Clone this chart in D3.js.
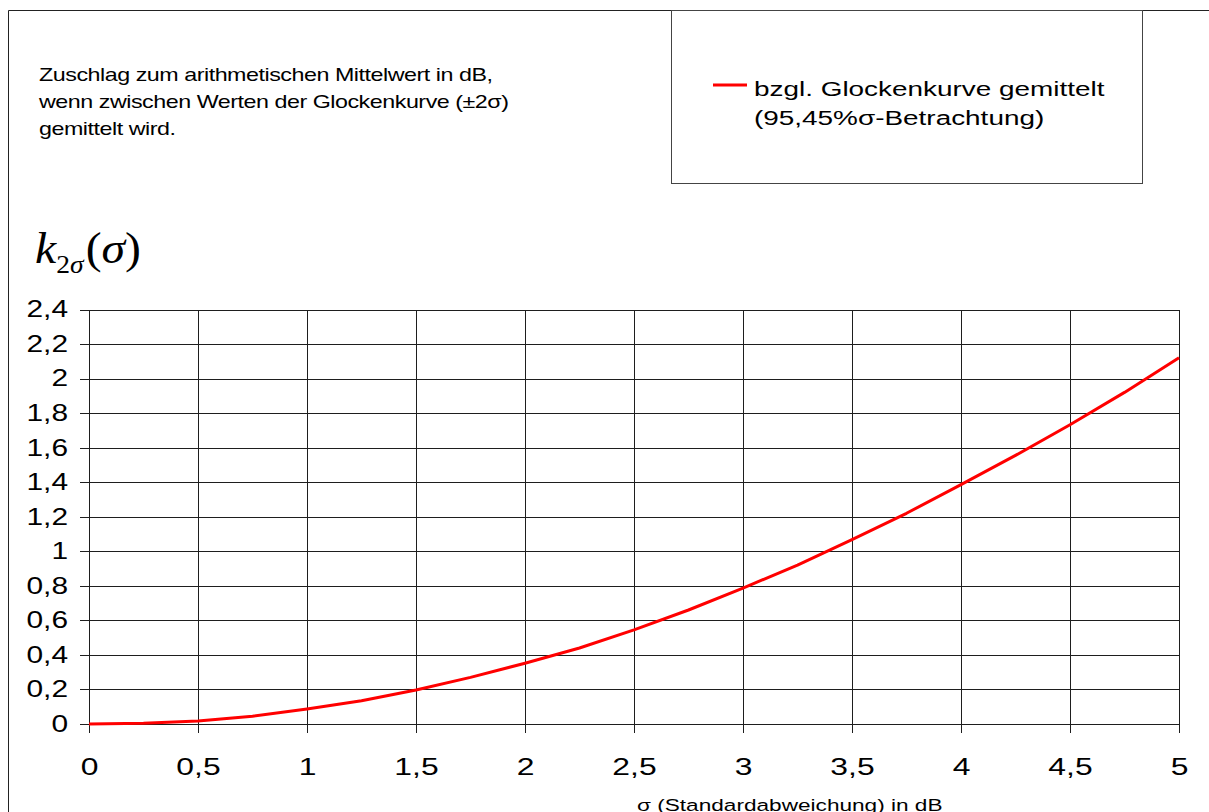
<!DOCTYPE html>
<html>
<head>
<meta charset="utf-8">
<script src="https://cdn.jsdelivr.net/npm/d3@7"></script>
<style>
  html, body { margin: 0; padding: 0; background: #fff; }
  svg { display: block; }
  text { font-family: "Liberation Sans", Arial, sans-serif; fill: #000; }
</style>
</head>
<body>
<svg id="chart" width="1209" height="812"></svg>
<script>
// ---- data ----
const sigma = [0, 0.25, 0.5, 0.75, 1.0, 1.25, 1.5, 1.75, 2.0, 2.25, 2.5, 2.75, 3.0, 3.25, 3.5, 3.75, 4.0, 4.25, 4.5, 4.75, 5.0];
const k2sigma = [0, 0.004, 0.018, 0.045, 0.087, 0.135, 0.197, 0.27, 0.352, 0.44, 0.545, 0.66, 0.787, 0.92, 1.067, 1.22, 1.386, 1.555, 1.733, 1.92, 2.12];
const xTickValues = [0, 0.5, 1, 1.5, 2, 2.5, 3, 3.5, 4, 4.5, 5];
const xTickLabels = ["0", "0,5", "1", "1,5", "2", "2,5", "3", "3,5", "4", "4,5", "5"];
const yTickValues = [0, 0.2, 0.4, 0.6, 0.8, 1.0, 1.2, 1.4, 1.6, 1.8, 2.0, 2.2, 2.4];
const yTickLabels = ["0", "0,2", "0,4", "0,6", "0,8", "1", "1,2", "1,4", "1,6", "1,8", "2", "2,2", "2,4"];
const noteLines = ["Zuschlag zum arithmetischen Mittelwert in dB,", "wenn zwischen Werten der Glockenkurve (±2σ)", "gemittelt wird."];
const legendLines = ["bzgl. Glockenkurve gemittelt", "(95,45%σ-Betrachtung)"];
const xTitle = "σ (Standardabweichung)  in dB";

// ---- layout ----
const SX = 1.3; // horizontal stretch of the original text
const svg = d3.select("#chart");
const x = d3.scaleLinear().domain([0, 5]).range([89, 1179]);
const y = d3.scaleLinear().domain([0, 2.4]).range([724, 309.5]);

// outer frame
svg.append("path")
  .attr("d", "M8.5,812 L8.5,10.5 L1209,10.5")
  .attr("fill", "none").attr("stroke", "#222").attr("stroke-width", 1);

// legend box
svg.append("rect")
  .attr("x", 671.5).attr("y", 10.5).attr("width", 471).attr("height", 173)
  .attr("fill", "#fff").attr("stroke", "#444").attr("stroke-width", 1);

// note text
noteLines.forEach((t, i) => {
  svg.append("text")
    .attr("transform", `translate(39,${81 + i * 27}) scale(1.33,1)`)
    .attr("font-size", 17.5)
    .attr("letter-spacing", -0.35)
    .text(t);
});

// legend
svg.append("line")
  .attr("x1", 713).attr("x2", 747).attr("y1", 85).attr("y2", 85)
  .attr("stroke", "#ff0000").attr("stroke-width", 3);
legendLines.forEach((t, i) => {
  svg.append("text")
    .attr("transform", `translate(754,${96 + i * 29}) scale(1.33,1)`)
    .attr("font-size", 21)
    .text(t);
});

// y-axis title k_{2σ}(σ)
const yt = svg.append("text")
  .attr("transform", "translate(35,263) scale(1.06,1)")
  .style("font-family", "'Liberation Serif', 'Times New Roman', serif")
  .attr("font-size", 45);
yt.append("tspan").attr("font-style", "italic").text("k");
yt.append("tspan").attr("font-size", 26).attr("dy", 10).text("2");
yt.append("tspan").attr("font-size", 26).attr("font-style", "italic").text("σ");
yt.append("tspan").attr("dy", -10).attr("dx", 2).text("(");
yt.append("tspan").attr("font-style", "italic").text("σ");
yt.append("tspan").text(")");

// grid
const grid = svg.append("g").attr("shape-rendering", "crispEdges");
grid.selectAll("line.h").data(yTickValues).join("line")
  .attr("class", "h")
  .attr("x1", 80).attr("x2", x(5))
  .attr("y1", d => Math.round(y(d)) + 0.5).attr("y2", d => Math.round(y(d)) + 0.5)
  .attr("stroke", "#1e1e1e").attr("stroke-width", 1);
grid.selectAll("line.v").data(xTickValues).join("line")
  .attr("class", "v")
  .attr("y1", y(2.4)).attr("y2", 733)
  .attr("x1", d => Math.round(x(d)) + 0.5).attr("x2", d => Math.round(x(d)) + 0.5)
  .attr("stroke", "#1e1e1e").attr("stroke-width", 1);

// axes (labels via d3 axes)
const yAxis = svg.append("g")
  .attr("transform", "translate(89,0)")
  .call(d3.axisLeft(y).tickValues(yTickValues).tickFormat((d, i) => yTickLabels[i]).tickSize(0).tickPadding(0));
yAxis.select(".domain").remove();
yAxis.selectAll("text")
  .attr("font-size", 23)
  .style("font-family", "'Liberation Sans', Arial, sans-serif")
  .attr("fill", "#000")
  .attr("x", -21 / SX)
  .attr("transform", `scale(${SX},1)`);

const xAxis = svg.append("g")
  .attr("transform", "translate(0,724)")
  .call(d3.axisBottom(x).tickValues(xTickValues).tickFormat((d, i) => xTickLabels[i]).tickSize(0).tickPadding(0));
xAxis.select(".domain").remove();
xAxis.selectAll("text")
  .attr("font-size", 24.5)
  .style("font-family", "'Liberation Sans', Arial, sans-serif")
  .attr("fill", "#000")
  .attr("y", 51).attr("dy", 0)
  .attr("transform", `scale(${SX},1)`);

// curve
const pts = sigma.map((s, i) => [s, k2sigma[i]]);
svg.append("path")
  .datum(pts)
  .attr("fill", "none")
  .attr("stroke", "#ff0000")
  .attr("stroke-width", 3)
  .attr("stroke-linejoin", "round")
  .attr("d", d3.line().x(d => x(d[0])).y(d => y(d[1])));

// x title (cut by the lower edge, as in the reference)
svg.append("text")
  .attr("transform", "translate(637,811) scale(1.33,1)")
  .attr("font-size", 17)
  .text(xTitle);
</script>
</body>
</html>
